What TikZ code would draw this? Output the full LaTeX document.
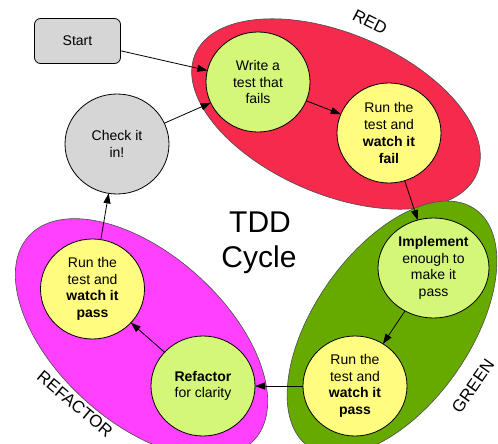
\documentclass[tikz,border=0pt]{standalone}
\usepackage{fontspec}
\setmainfont{Liberation Sans}
\usetikzlibrary{shapes.geometric,arrows.meta}
\definecolor{redzone}{RGB}{245,42,77}
\definecolor{greenzone}{RGB}{102,170,0}
\definecolor{refzone}{RGB}{255,64,255}
\definecolor{limefill}{RGB}{212,247,122}
\definecolor{yellowfill}{RGB}{255,252,128}
\definecolor{grayfill}{RGB}{214,214,214}
\begin{document}
\begin{tikzpicture}[x=1pt,y=1pt,
  zone/.style={draw=black!70, line width=0.6pt},
  stage/.style={ellipse, draw=black, line width=0.8pt, minimum width=104pt,
    minimum height=100pt, inner sep=0pt, outer sep=0pt, align=center,
    font=\fontsize{14}{16.7}\selectfont},
  flow/.style={-{Triangle[length=10pt,width=7pt]}, line width=0.8pt},
  zonelabel/.style={font=\fontsize{17}{20}\selectfont, inner sep=0pt},
  titletext/.style={font=\fontsize{30}{35}\selectfont, anchor=base, inner sep=0pt}
]
\clip (0,0) rectangle (498,-444);

% the three phase regions
\draw[zone, fill=redzone, rotate around={-23:(336,-114)}]
  (336,-114) ellipse (153pt and 80.5pt);
\draw[zone, fill=greenzone, rotate around={55:(392,-328)}]
  (392,-328) ellipse (145pt and 78pt);
\draw[zone, fill=refzone, rotate around={-42:(141.5,-338)}]
  (141.5,-338) ellipse (152pt and 84pt);

% phase labels
\node[zonelabel, rotate=-27] (lred) at (370,-22) {RED};
\node[zonelabel, rotate=55] (lgreen) at (473,-386) {GREEN};
\node[zonelabel, rotate=-40] (lref) at (75,-404) {REFACTOR};

% title
\node[titletext] (title) at (260,-232) {TDD};
\node[titletext] (title2) at (259,-267) {Cycle};

% steps
\node[draw=black, line width=0.8pt, fill=grayfill, rounded corners=6pt,
  minimum width=86pt, minimum height=45pt, font=\fontsize{14}{16.7}\selectfont]
  (start) at (77.5,-41) {Start};
\node[stage, fill=limefill] (write) at (258,-82) {Write a\\test that\\fails};
\node[stage, fill=yellowfill] (fail) at (389,-133) {Run the\\test and\\\textbf{watch it}\\\textbf{fail}};
\node[stage, fill=limefill, minimum width=111pt] (impl) at (433.5,-268)
  {\textbf{Implement}\\enough to\\make it\\pass};
\node[stage, fill=yellowfill] (gpass) at (355,-386) {Run the\\test and\\\textbf{watch it}\\\textbf{pass}};
\node[stage, fill=limefill] (refac) at (203,-386) {\textbf{Refactor}\\for clarity};
\node[stage, fill=yellowfill] (mpass) at (92.5,-289) {Run the\\test and\\\textbf{watch it}\\\textbf{pass}};
\node[stage, fill=grayfill] (check) at (117,-144) {Check it\\in!};

% connectors
\draw[flow] (start) -- (write);
\draw[flow] (check) -- (write);
\draw[flow] (write) -- (fail);
\draw[flow] (fail) -- (impl);
\draw[flow] (impl) -- (gpass);
\draw[flow] (gpass) -- (refac);
\draw[flow] (refac) -- (mpass);
\draw[flow] (mpass) -- (check);
\end{tikzpicture}
\end{document}
